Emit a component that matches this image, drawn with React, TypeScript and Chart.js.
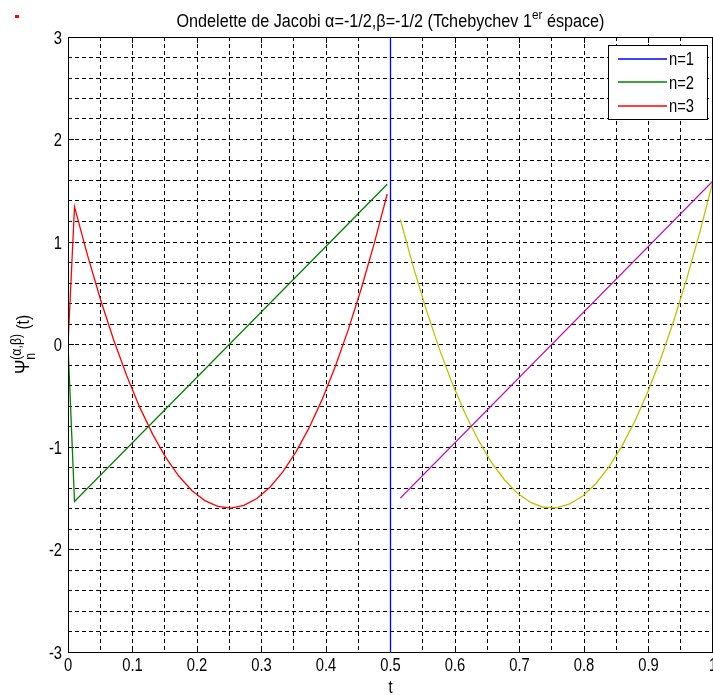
import React, { useEffect, useRef } from "react";
import { Chart, registerables } from "chart.js";
Chart.register(...registerables);

const TITLE_MAIN = "Ondelette de Jacobi α=-1/2,β=-1/2 (Tchebychev 1";
const TITLE_SUP = "er";
const TITLE_END = " éspace)";
const X_LABEL = "t";
const Y_LABEL_MAIN = "Ψ";
const Y_LABEL_SUP = "(α,β)";
const Y_LABEL_SUB = "n";
const Y_LABEL_END = " (t)";

const X_TICK_VALUES = [0, 0.1, 0.2, 0.3, 0.4, 0.5, 0.6, 0.7, 0.8, 0.9, 1];
const X_TICK_LABELS = ["0", "0.1", "0.2", "0.3", "0.4", "0.5", "0.6", "0.7", "0.8", "0.9", "1"];
const Y_TICK_VALUES = [-3, -2, -1, 0, 1, 2, 3];
const Y_TICK_LABELS = ["-3", "-2", "-1", "0", "1", "2", "3"];

const LEGEND_LABELS = ["n=1", "n=2", "n=3"];

// n=1
const n1T = [0.5, 0.5];
const n1Y = [-3, 3];
// n=2, first half
const n2T = [0, 0.0101, 0.4949];
const n2Y = [0, -1.531, 1.564];
// n=3, first half
const n3T = [0, 0.0101, 0.0303, 0.0505, 0.0707, 0.0909, 0.1111, 0.1313, 0.1515, 0.1717, 0.1919, 0.2121, 0.2323, 0.2525, 0.2727, 0.2929, 0.3131, 0.3333, 0.3535, 0.3737, 0.3939, 0.4141, 0.4343, 0.4545, 0.4747, 0.4949];
const n3Y = [0, 1.343, 0.869, 0.437, 0.046, -0.303, -0.611, -0.877, -1.101, -1.283, -1.424, -1.523, -1.58, -1.596, -1.569, -1.502, -1.392, -1.241, -1.048, -0.814, -0.538, -0.22, 0.14, 0.541, 0.984, 1.468];
// n=2, second half
const n2bT = [0.5152, 1];
const n2bY = [-1.499, 1.596];
// n=3, second half
const n3bT = [0.5152, 0.5354, 0.5556, 0.5758, 0.596, 0.6162, 0.6364, 0.6566, 0.6768, 0.697, 0.7172, 0.7374, 0.7576, 0.7778, 0.798, 0.8182, 0.8384, 0.8586, 0.8788, 0.899, 0.9192, 0.9394, 0.9596, 0.9798, 1];
const n3bY = [1.221, 0.757, 0.335, -0.045, -0.384, -0.681, -0.936, -1.15, -1.322, -1.452, -1.541, -1.588, -1.593, -1.556, -1.478, -1.358, -1.197, -0.994, -0.749, -0.462, -0.134, 0.236, 0.648, 1.101, 1.596];

const COLORS = ["#0000ff", "#008000", "#ff0000", "#bf00bf", "#bfbf00"];

const FONT = '"Liberation Sans", Arial, Helvetica, sans-serif';
const NARROW = 0.82;

function zip(t: number[], y: number[]) {
  return t.map((v, i) => ({ x: v, y: y[i] }));
}

function textWidth(ctx: CanvasRenderingContext2D, text: string, size: number, sx = NARROW) {
  ctx.save();
  ctx.font = `${size}px ${FONT}`;
  const w = ctx.measureText(text).width * sx;
  ctx.restore();
  return w;
}

function drawText(
  ctx: CanvasRenderingContext2D,
  text: string,
  x: number,
  y: number,
  size: number,
  align: CanvasTextAlign = "left",
  sx = NARROW
) {
  ctx.save();
  ctx.translate(x, y);
  ctx.scale(sx, 1);
  ctx.font = `${size}px ${FONT}`;
  ctx.textAlign = align;
  ctx.textBaseline = "alphabetic";
  ctx.fillStyle = "#000";
  ctx.fillText(text, 0, 0);
  ctx.restore();
}

function crisp(p: number) {
  return Math.round(p - 0.5) + 0.5;
}

const matlabPlugin = {
  id: "matlabDecor",
  beforeDatasetsDraw(chart: any) {
    const ctx: CanvasRenderingContext2D = chart.ctx;
    const area = chart.chartArea;
    const xs = chart.scales.x;
    const ys = chart.scales.y;
    ctx.save();
    ctx.strokeStyle = "#000";
    ctx.lineWidth = 1;
    ctx.setLineDash([4, 3]);
    for (const tk of xs.ticks) {
      const px = crisp(xs.getPixelForValue(tk.value));
      if (px <= area.left + 1 || px >= area.right - 1) continue;
      ctx.beginPath();
      ctx.moveTo(px, area.top);
      ctx.lineTo(px, area.bottom);
      ctx.stroke();
    }
    for (const tk of ys.ticks) {
      const py = crisp(ys.getPixelForValue(tk.value));
      if (py <= area.top + 1 || py >= area.bottom - 1) continue;
      ctx.beginPath();
      ctx.moveTo(area.left, py);
      ctx.lineTo(area.right, py);
      ctx.stroke();
    }
    ctx.setLineDash([]);
    for (const v of X_TICK_VALUES) {
      const px = crisp(xs.getPixelForValue(v));
      ctx.beginPath();
      ctx.moveTo(px, area.bottom);
      ctx.lineTo(px, area.bottom - 6);
      ctx.moveTo(px, area.top);
      ctx.lineTo(px, area.top + 6);
      ctx.stroke();
    }
    for (const v of Y_TICK_VALUES) {
      const py = crisp(ys.getPixelForValue(v));
      ctx.beginPath();
      ctx.moveTo(area.left, py);
      ctx.lineTo(area.left + 6, py);
      ctx.moveTo(area.right, py);
      ctx.lineTo(area.right - 6, py);
      ctx.stroke();
    }
    ctx.restore();
  },
  afterDraw(chart: any) {
    const ctx: CanvasRenderingContext2D = chart.ctx;
    const area = chart.chartArea;
    const xs = chart.scales.x;
    const ys = chart.scales.y;
    ctx.save();
    ctx.strokeStyle = "#000";
    ctx.lineWidth = 1;
    const l = Math.round(area.left) + 0.5;
    const t = Math.round(area.top) + 0.5;
    const r = Math.round(area.right) - 0.5;
    const b = Math.round(area.bottom) + 0.5;
    ctx.beginPath();
    ctx.moveTo(l, t);
    ctx.lineTo(r, t);
    ctx.lineTo(r, b);
    ctx.lineTo(l, b);
    ctx.closePath();
    ctx.stroke();

    X_TICK_VALUES.forEach((v, i) => {
      drawText(ctx, X_TICK_LABELS[i], xs.getPixelForValue(v), area.bottom + 19, 18, "center");
    });
    Y_TICK_VALUES.forEach((v, i) => {
      drawText(ctx, Y_TICK_LABELS[i], area.left - 6, ys.getPixelForValue(v) + 6.5, 18, "right");
    });

    const cx = (area.left + area.right) / 2;
    drawText(ctx, X_LABEL, cx, area.bottom + 41, 18, "center");

    // title
    const TS = 0.9;
    const wMain = textWidth(ctx, TITLE_MAIN, 18, TS);
    const wSup = textWidth(ctx, TITLE_SUP, 13, TS);
    const wEnd = textWidth(ctx, TITLE_END, 18, TS);
    let tx = cx - (wMain + wSup + wEnd) / 2;
    drawText(ctx, TITLE_MAIN, tx, 27, 18, "left", TS);
    tx += wMain;
    drawText(ctx, TITLE_SUP, tx, 19, 13, "left", TS);
    tx += wSup;
    drawText(ctx, TITLE_END, tx, 27, 18, "left", TS);

    // y label (rotated)
    const cy = (area.top + area.bottom) / 2;
    ctx.save();
    ctx.translate(29, cy);
    ctx.rotate(-Math.PI / 2);
    const wPsi = textWidth(ctx, Y_LABEL_MAIN, 21);
    const wS = textWidth(ctx, Y_LABEL_SUP, 15);
    const wN = textWidth(ctx, Y_LABEL_SUB, 15);
    const wT = textWidth(ctx, Y_LABEL_END, 19);
    const total = wPsi + Math.max(wS, wN) + wT;
    let yx = -total / 2;
    drawText(ctx, Y_LABEL_MAIN, yx, 0, 21);
    yx += wPsi;
    drawText(ctx, Y_LABEL_SUP, yx, -8, 15);
    drawText(ctx, Y_LABEL_SUB, yx, 6, 15);
    yx += Math.max(wS, wN);
    drawText(ctx, Y_LABEL_END, yx, 0, 19);
    ctx.restore();

    // legend
    const lx = 608.5;
    const ly = 45.5;
    const lw = 99;
    const lh = 74;
    ctx.fillStyle = "#fff";
    ctx.fillRect(lx, ly, lw, lh);
    ctx.strokeStyle = "#000";
    ctx.lineWidth = 1;
    ctx.strokeRect(lx, ly, lw, lh);
    LEGEND_LABELS.forEach((lab, i) => {
      const rowY = 58.5 + i * 23.5;
      const yy = Math.round(rowY);
      ctx.strokeStyle = COLORS[i];
      ctx.lineWidth = 1.3;
      ctx.beginPath();
      ctx.moveTo(618, yy);
      ctx.lineTo(667, yy);
      ctx.stroke();
      drawText(ctx, lab, 669, rowY + 6.5, 18);
    });

    ctx.fillStyle = "#ff0000";
    ctx.fillRect(15, 15, 4, 3);
    ctx.restore();
  },
};

export default function App() {
  const ref = useRef<HTMLCanvasElement>(null);
  useEffect(() => {
    if (!ref.current) return;
    const chart = new Chart(ref.current, {
      type: "line",
      data: {
        datasets: [
          { label: LEGEND_LABELS[0], data: zip(n1T, n1Y), borderColor: COLORS[0] },
          { label: LEGEND_LABELS[1], data: zip(n2T, n2Y), borderColor: COLORS[1] },
          { label: LEGEND_LABELS[2], data: zip(n3T, n3Y), borderColor: COLORS[2] },
          { label: "n=2 (2)", data: zip(n2bT, n2bY), borderColor: COLORS[3] },
          { label: "n=3 (2)", data: zip(n3bT, n3bY), borderColor: COLORS[4] },
        ].map((d) => ({
          ...d,
          borderWidth: 1.3,
          pointRadius: 0,
          tension: 0,
          fill: false,
        })),
      },
      options: {
        animation: false,
        responsive: false,
        devicePixelRatio: 1,
        layout: { padding: { left: 0, top: 37, right: 0, bottom: 0 } },
        plugins: {
          legend: { display: false },
          title: { display: false },
          tooltip: { enabled: false },
        },
        events: [],
        scales: {
          x: {
            type: "linear",
            min: 0,
            max: 1,
            ticks: { stepSize: 0.05, display: false },
            grid: { display: false, drawTicks: false },
            border: { display: false },
            afterFit: (s: any) => {
              s.height = 43;
            },
          },
          y: {
            type: "linear",
            min: -3,
            max: 3,
            ticks: { stepSize: 0.2, display: false },
            grid: { display: false, drawTicks: false },
            border: { display: false },
            afterFit: (s: any) => {
              s.width = 68;
            },
          },
        },
      },
      plugins: [matlabPlugin],
    } as any);
    return () => chart.destroy();
  }, []);
  return (
    <div style={{ position: "fixed", left: 0, top: 0, width: 713, height: 695, background: "#fff" }}>
      <canvas ref={ref} width={713} height={695} style={{ display: "block", width: 713, height: 695 }} />
    </div>
  );
}
